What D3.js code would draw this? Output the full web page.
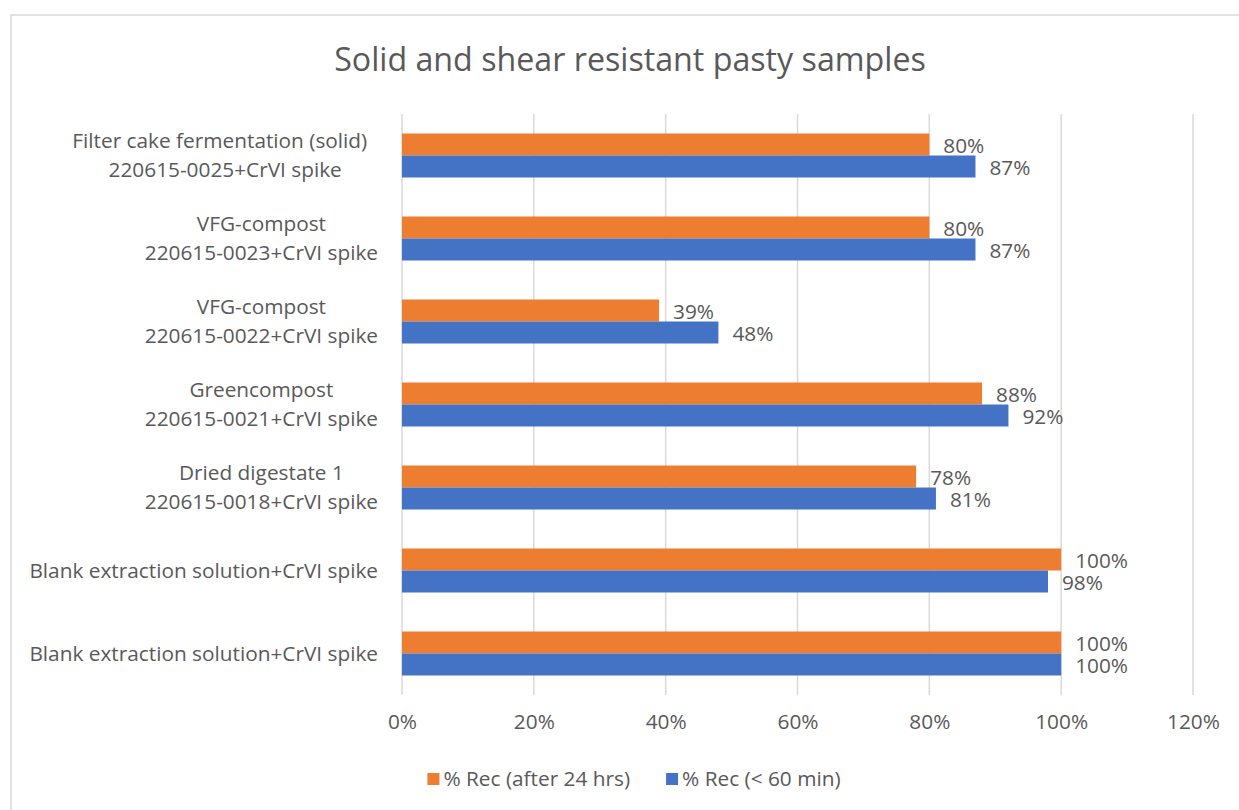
<!DOCTYPE html>
<html>
<head>
<meta charset="utf-8">
<script src="https://cdn.jsdelivr.net/npm/d3@7"></script>
<style>
  html, body { margin: 0; padding: 0; background: #ffffff; }
  svg { display: block; }
  text { font-family: "Open Sans", "Noto Sans", sans-serif; fill: #595959; white-space: pre; }
</style>
</head>
<body>
<svg id="chart" width="1239" height="810"></svg>
<script>
// Sample categories, listed top to bottom; each may span two lines
const categories = [
  ["Filter cake fermentation (solid)\u00a0\u00a0", "220615-0025+CrVI spike"],
  ["VFG-compost", "220615-0023+CrVI spike"],
  ["VFG-compost", "220615-0022+CrVI spike"],
  ["Greencompost", "220615-0021+CrVI spike"],
  ["Dried digestate 1", "220615-0018+CrVI spike"],
  ["Blank extraction solution+CrVI spike"],
  ["Blank extraction solution+CrVI spike"]
];
const seriesNames = ["% Rec (after 24 hrs)", "% Rec (< 60 min)"];
const recAfter24h = [80, 80, 39, 88, 78, 100, 100];
const recUnder60min = [87, 87, 48, 92, 81, 98, 100];
const xTicks = [0, 20, 40, 60, 80, 100, 120];

const colors = ["#ED7D31", "#4472C4"];
const series = [recAfter24h, recUnder60min];
const fontSize = "20.8px";

const svg = d3.select("#chart");

// Chart frame
svg.append("rect")
  .attr("x", 11).attr("y", 15)
  .attr("width", 1240).attr("height", 820)
  .attr("fill", "#fff")
  .attr("stroke", "#d9d9d9").attr("stroke-width", 1.5);

// Title
svg.append("text")
  .attr("x", 630).attr("y", 71)
  .attr("text-anchor", "middle")
  .style("font-size", "32.2px")
  .text("Solid and shear resistant pasty samples");

const plot = { left: 402, right: 1193, top: 114, bottom: 695 };

const x = d3.scaleLinear().domain([0, 120]).range([plot.left, plot.right]);
const y = d3.scaleBand()
  .domain(d3.range(categories.length))
  .range([plot.top, plot.bottom])
  .paddingInner(0.47).paddingOuter(0.235);
const ySub = d3.scaleBand().domain([0, 1]).range([0, y.bandwidth()]);

// Vertical gridlines
svg.append("g").selectAll("line")
  .data(xTicks)
  .join("line")
  .attr("x1", d => x(d)).attr("x2", d => x(d))
  .attr("y1", plot.top).attr("y2", plot.bottom)
  .attr("stroke", "#d9d9d9").attr("stroke-width", 1.5);

// X axis tick labels
const xAxis = d3.axisBottom(x).tickValues(xTicks).tickFormat(d => d + "%").tickSize(0).tickPadding(0);
const xg = svg.append("g").attr("transform", `translate(0,${plot.bottom + 19})`).call(xAxis);
xg.select(".domain").remove();
xg.selectAll("text").style("font-size", fontSize).attr("fill", "#595959")
  .style("font-family", '"Open Sans", "Noto Sans", sans-serif');

// Bars and value labels
series.forEach((vals, s) => {
  const g = svg.append("g");
  g.selectAll("rect")
    .data(vals)
    .join("rect")
    .attr("x", x(0))
    .attr("y", (d, i) => y(i) + ySub(s))
    .attr("width", d => x(d) - x(0))
    .attr("height", ySub.bandwidth())
    .attr("fill", colors[s]);
  g.selectAll("text")
    .data(vals)
    .join("text")
    .attr("x", d => x(d) + 14)
    .attr("y", (d, i) => y(i) + ySub(s) + ySub.bandwidth() / 2 + 1)
    .attr("dy", "0.35em")
    .style("font-size", fontSize)
    .text(d => d + "%");
});

// Category labels: centered lines, block right-aligned beside the axis
const catG = svg.append("g");
const lineGap = 29;
categories.forEach((lines, i) => {
  const cy = y(i) + y.bandwidth() / 2;
  const texts = lines.map((t, k) =>
    catG.append("text")
      .attr("y", cy + (k - (lines.length - 1) / 2) * lineGap)
      .attr("dy", "0.35em")
      .attr("text-anchor", "middle")
      .style("font-size", fontSize)
      .text(t)
  );
  const blockW = d3.max(texts, t => t.node().getComputedTextLength());
  const cx = plot.left - 24 - blockW / 2;
  texts.forEach(t => t.attr("x", cx));
});

// Legend
const legend = svg.append("g");
let lx = 0;
seriesNames.forEach((name, s) => {
  legend.append("rect")
    .attr("x", lx).attr("y", -6)
    .attr("width", 12).attr("height", 12)
    .attr("fill", colors[s]);
  const t = legend.append("text")
    .attr("x", lx + 16).attr("y", 0)
    .attr("dy", "0.35em")
    .style("font-size", fontSize)
    .text(name);
  lx += 16 + t.node().getComputedTextLength() + 36;
});
const legendW = lx - 36;
legend.attr("transform", `translate(${634 - legendW / 2},779)`);
</script>
</body>
</html>
